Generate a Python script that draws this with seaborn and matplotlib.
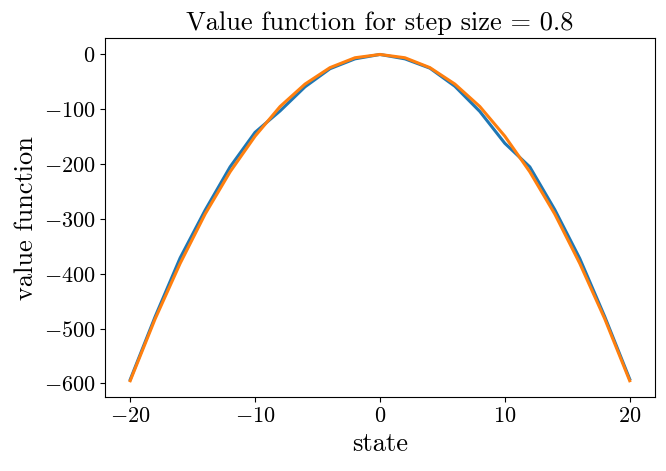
import numpy as np
import pandas as pd
import matplotlib
matplotlib.use("Agg")
import matplotlib.pyplot as plt
import seaborn as sns

states = [-20, -18, -16, -14, -12, -10, -8, -6, -4, -2, 0, 2, 4, 6, 8, 10, 12, 14, 16, 18, 20]
approx_values = [-593, -478, -371, -284, -205, -142, -103, -59, -26, -8, 0,
                 -8, -25, -58, -104, -162, -205, -283, -372, -478, -592]
true_values = [-595, -482, -381, -291, -214, -149, -95, -54, -24, -6, 0,
               -6, -24, -54, -95, -149, -214, -291, -381, -482, -595]
title_text = "Value function for step size = 0.8"
xlabel_text = "state"
ylabel_text = "value function"

plt.rcParams['font.family'] = ['cmr10', 'DejaVu Serif']
plt.rcParams['mathtext.fontset'] = 'cm'
plt.rcParams['axes.formatter.use_mathtext'] = True
plt.rcParams['axes.unicode_minus'] = True

fig = plt.figure(figsize=(6.66, 4.71), dpi=100)
ax = fig.add_axes([0.158, 0.157, 0.825, 0.762])

df = pd.DataFrame({"state": states + states,
                   "value": approx_values + true_values,
                   "series": ["approx"] * len(states) + ["true"] * len(states)})
sns.lineplot(data=df, x="state", y="value", hue="series",
             palette=["#1f77b4", "#ff7f0e"], linewidth=2.2, ax=ax, legend=False)

ax.set_title(title_text, fontsize=19)
ax.set_xlabel(xlabel_text, fontsize=19)
ax.set_ylabel(ylabel_text, fontsize=19)
ax.tick_params(labelsize=16)
ax.set_xticks([-20, -10, 0, 10, 20])
ax.set_yticks([0, -100, -200, -300, -400, -500, -600])

fig.savefig("out.png", dpi=100)
